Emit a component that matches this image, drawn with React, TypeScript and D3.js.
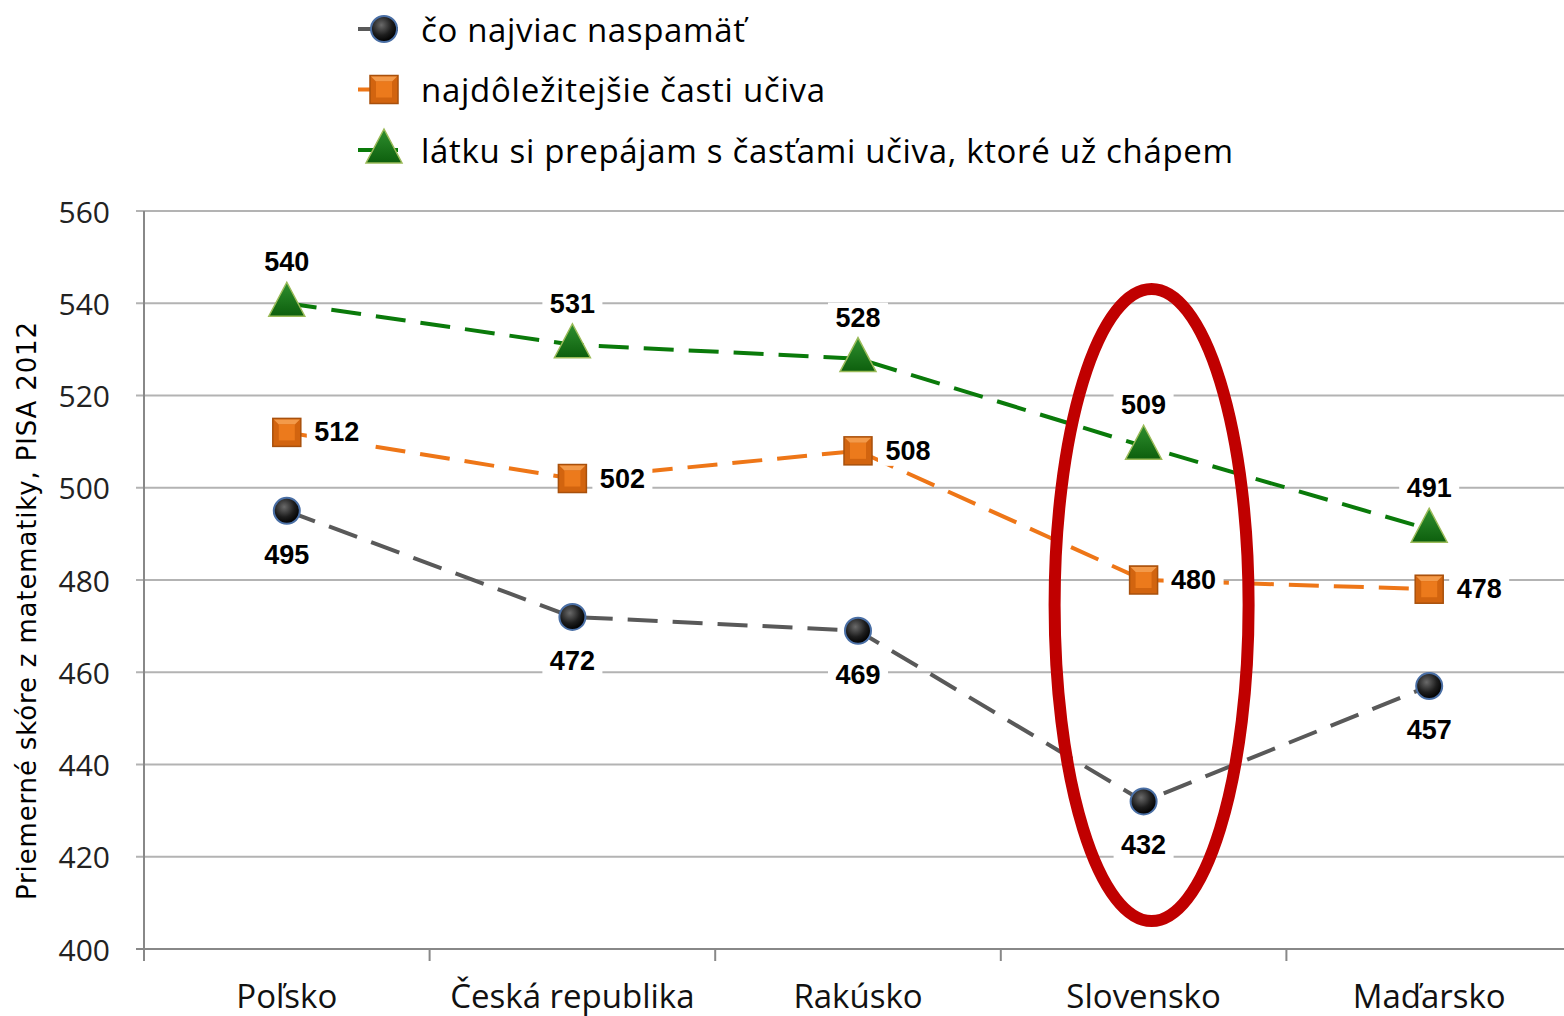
import React from "react";
import * as d3 from "d3";

const categories = ["Poľsko", "Česká republika", "Rakúsko", "Slovensko", "Maďarsko"];
const seriesNames = [
  "čo najviac naspamäť",
  "najdôležitejšie časti učiva",
  "látku si prepájam s časťami učiva, ktoré už chápem",
];
const legendWidths = [324, 404, 812];
const memorize = [495, 472, 469, 432, 457];
const important = [512, 502, 508, 480, 478];
const connect = [540, 531, 528, 509, 491];
const yTicks = [400, 420, 440, 460, 480, 500, 520, 540, 560];
const yTitle = "Priemerné skóre z matematiky, PISA 2012";
const highlighted = "Slovensko";

const W = 1564, H = 1016;
const left = 144, top = 211, bottom = 949;
const bandW = 285.6;

export default function App() {
  const x = d3.scaleBand<string>().domain(categories).range([left, left + bandW * categories.length]);
  const y = d3.scaleLinear().domain([400, 560]).range([bottom, top]);
  const cx = (c: string) => (x(c) as number) + x.bandwidth() / 2;
  const line = d3.line<[number, number]>().x(d => d[0]).y(d => d[1]);

  const series = [
    { vals: memorize, color: "#595959", kind: "circle", label: "below" },
    { vals: important, color: "#ee7617", kind: "square", label: "right" },
    { vals: connect, color: "#0a7a0a", kind: "triangle", label: "above" },
  ];

  const font = "'Open Sans', sans-serif";

  const marker = (kind: string, px: number, py: number, key: string) => {
    if (kind === "circle")
      return <circle key={key} cx={px} cy={py} r={13} fill="url(#gCircle)" stroke="#4a6fa5" strokeWidth={2} />;
    if (kind === "square")
      return (
        <g key={key}>
          <rect x={px - 14} y={py - 14} width={28} height={28} fill="#d2640f" stroke="#a8500c" strokeWidth={1.5} />
          <path d={`M${px - 13},${py - 13} L${px + 13},${py - 13} L${px + 8},${py - 8} L${px - 8},${py - 8} Z`} fill="#f39a4a" />
          <rect x={px - 8} y={py - 8} width={16} height={16} fill="#ec7a1c" />
        </g>
      );
    return (
      <g key={key}>
        <path d={`M${px},${py - 21} L${px + 18},${py + 13} L${px - 18},${py + 13} Z`} fill="url(#gTri)" stroke="#9bbb59" strokeWidth={1.5} />
      </g>
    );
  };

  const dataLabel = (text: string, lx: number, ly: number, key: string) => (
    <g key={key}>
      <rect x={lx - 30} y={ly - 15} width={60} height={30} fill="#fff" />
      <text x={lx} y={ly} textAnchor="middle" dominantBaseline="central" fontFamily="Arial, 'Liberation Sans', sans-serif" fontWeight="bold" fontSize={27} fill="#000">{text}</text>
    </g>
  );

  const hx = cx(highlighted);

  return (
    <svg width={W} height={H} style={{ position: "absolute", left: 0, top: 0, background: "#fff" }}>
      <defs>
        <radialGradient id="gCircle" cx="40%" cy="35%" r="65%">
          <stop offset="0%" stopColor="#6a6a6a" />
          <stop offset="60%" stopColor="#1e1e1e" />
          <stop offset="100%" stopColor="#000" />
        </radialGradient>
        <linearGradient id="gTri" x1="0" y1="0" x2="0" y2="1">
          <stop offset="0%" stopColor="#2f8f2f" />
          <stop offset="100%" stopColor="#0d5f0d" />
        </linearGradient>
      </defs>
      <rect width={W} height={H} fill="#fff" />
      {yTicks.map(t => (
        <g key={t}>
          <line x1={left - 8} x2={W} y1={y(t)} y2={y(t)} stroke={t === 400 ? "#888" : "#b3b3b3"} strokeWidth={2} />
          <text x={left - 34} y={y(t)} textAnchor="end" dominantBaseline="central" fontFamily={font} fontSize={30} fill="#222">{t}</text>
        </g>
      ))}
      <line x1={left} x2={left} y1={top} y2={bottom + 12} stroke="#888" strokeWidth={2} />
      {categories.map((c, i) => (
        <line key={"t" + i} x1={(x(c) as number) + bandW} x2={(x(c) as number) + bandW} y1={bottom} y2={bottom + 12} stroke="#888" strokeWidth={2} />
      ))}
      {categories.map(c => (
        <text key={c} x={cx(c)} y={995} textAnchor="middle" dominantBaseline="central" fontFamily={font} fontSize={33} fill="#111">{c}</text>
      ))}
      <text transform={`translate(27,${611}) rotate(-90)`} textAnchor="middle" dominantBaseline="central" fontFamily="'DejaVu Sans', Arial, sans-serif" fontSize={26} textLength={578} fill="#000">{yTitle}</text>

      {series.map((s, si) => (
        <path key={"l" + si} d={line(categories.map((c, i) => [cx(c), y(s.vals[i])]) as [number, number][]) || ""} fill="none" stroke={s.color} strokeWidth={4} strokeDasharray="30,15" />
      ))}
      {series.map((s, si) =>
        categories.map((c, i) => {
          const px = cx(c), py = y(s.vals[i]);
          let lx = px, ly = py;
          if (s.label === "below") ly = py + 44;
          else if (s.label === "above") ly = py - 41;
          else lx = px + 50;
          return dataLabel(String(s.vals[i]), lx, ly, `dl${si}-${i}`);
        })
      )}
      {series.map((s, si) =>
        categories.map((c, i) => marker(s.kind, cx(c), y(s.vals[i]), `m${si}-${i}`))
      )}

      <ellipse cx={hx + 8} cy={605} rx={97} ry={316} fill="none" stroke="#c00000" strokeWidth={12} />

      {series.map((s, si) => {
        const ly = 29 + si * 60.5;
        return (
          <g key={"lg" + si}>
            <line x1={358} x2={398} y1={ly} y2={ly} stroke={s.color} strokeWidth={4} />
            {marker(s.kind, 384, ly, "lm" + si)}
            <text x={421} y={ly} dominantBaseline="central" fontFamily={font} fontSize={33} textLength={legendWidths[si]} fill="#000">{seriesNames[si]}</text>
          </g>
        );
      })}
    </svg>
  );
}
